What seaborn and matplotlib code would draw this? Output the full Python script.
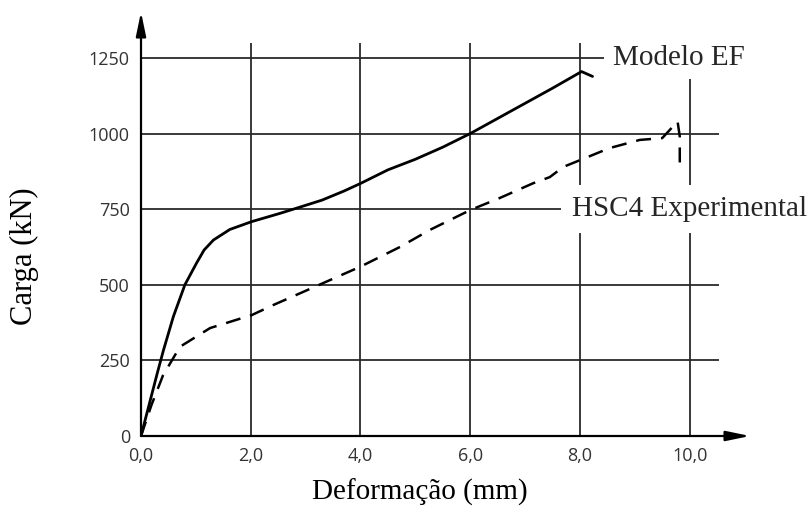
import matplotlib
matplotlib.use("Agg")
import matplotlib.pyplot as plt
import seaborn as sns
import pandas as pd

# curva Modelo EF
ef_desl = [0.0, 0.1, 0.2, 0.3, 0.41, 0.59, 0.80, 1.01, 1.15, 1.32, 1.62, 2.02, 2.53,
           2.9, 3.3, 3.7, 4.0, 4.5, 5.0, 5.5, 6.0, 6.5, 7.0, 7.5, 8.03, 8.23]
ef_carga = [0, 70, 140, 210, 284, 395, 500, 571, 615, 648, 683, 709, 736,
            757, 780, 810, 835, 880, 915, 955, 1000, 1050, 1100, 1150, 1205, 1189]

# curva HSC4 Experimental
exp_desl = [0.0, 0.19, 0.4, 0.71, 1.26, 2.02, 2.41, 3.0, 3.5, 4.0, 4.72, 5.26, 6.0,
            6.54, 7.15, 7.45, 7.7, 8.0, 8.54, 9.09, 9.5, 9.78, 9.82, 9.82]
exp_carga = [0, 102, 200, 295, 357, 400, 433, 480, 520, 560, 625, 681, 747,
             787, 836, 856, 890, 912, 952, 979, 985, 1040, 990, 880]

xticks = [0, 2, 4, 6, 8, 10]
xtick_labels = ["0,0", "2,0", "4,0", "6,0", "8,0", "10,0"]
yticks = [0, 250, 500, 750, 1000, 1250]

sns.set_theme(style="white")

fig = plt.figure(figsize=(8.11, 5.08), dpi=100)
ax = fig.add_axes([141 / 811, 1 - 436 / 508, 609 / 811, 424 / 508])
ax.set_xlim(0, 11.1)
ax.set_ylim(0, 1402)

# grade
grid_kw = dict(color="#2a2a2a", lw=1.3, zorder=1)
for xv in xticks[1:]:
    ax.vlines(xv, 0, 1300, **grid_kw)
for yv in yticks[1:]:
    ax.hlines(yv, 0, 10.53, **grid_kw)

df_ef = pd.DataFrame({"x": ef_desl, "y": ef_carga})
df_exp = pd.DataFrame({"x": exp_desl, "y": exp_carga})
sns.lineplot(data=df_ef, x="x", y="y", ax=ax, sort=False, estimator=None,
             color="black", lw=2.0, zorder=3)
sns.lineplot(data=df_exp, x="x", y="y", ax=ax, sort=False, estimator=None,
             color="black", lw=1.8, linestyle=(0, (6, 4)), zorder=3)

# eixos com setas
for s in ax.spines.values():
    s.set_visible(False)
ax.annotate("", xy=(11.1, 0), xytext=(0, 0), annotation_clip=False,
            arrowprops=dict(arrowstyle="-|>,head_length=1.2,head_width=0.25",
                            color="black", lw=1.6, shrinkA=0, shrinkB=0), zorder=4)
ax.annotate("", xy=(0, 1402), xytext=(0, 0), annotation_clip=False,
            arrowprops=dict(arrowstyle="-|>,head_length=1.2,head_width=0.25",
                            color="black", lw=1.6, shrinkA=0, shrinkB=0), zorder=4)

ax.set_xticks(xticks)
ax.set_xticklabels(xtick_labels)
ax.set_yticks(yticks)
ax.tick_params(axis="both", length=0, labelsize=13, labelcolor="#333333")
ax.tick_params(axis="x", pad=8)
ax.tick_params(axis="y", pad=8)
for lab in ax.get_xticklabels() + ax.get_yticklabels():
    lab.set_family("Open Sans")

serif = ["Liberation Serif", "DejaVu Serif"]
ax.set_xlabel("Deformação (mm)", family=serif, fontsize=21, color="black")
ax.set_ylabel("Carga (kN)", family=serif, fontsize=22, color="black")
ax.xaxis.set_label_coords((420 - 141) / 609, (436 - 492) / 424)
ax.yaxis.set_label_coords((24 - 141) / 609, (436 - 256) / 424)
ax.xaxis.label.set_va("center")
ax.yaxis.label.set_va("center")

# rotulos das curvas
ax.text(8.6, 1250, "Modelo EF", family=serif, fontsize=21, va="center", ha="left",
        bbox=dict(facecolor="white", edgecolor="none", pad=6), zorder=5)
ax.text(7.85, 750, "HSC4 Experimental", family=serif, fontsize=21, va="center", ha="left",
        bbox=dict(facecolor="white", edgecolor="none", pad=8), zorder=5)

fig.savefig("out.png", dpi=100)
